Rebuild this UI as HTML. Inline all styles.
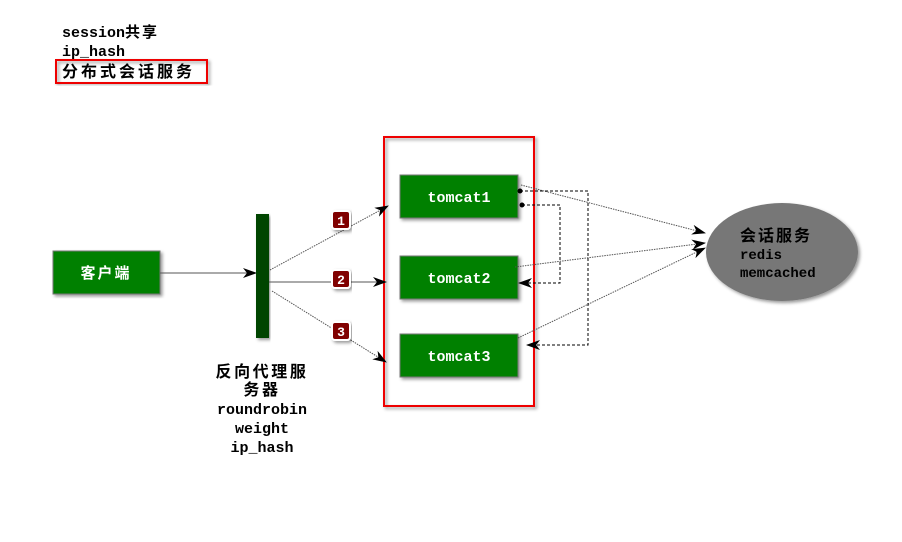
<!DOCTYPE html>
<html><head><meta charset="utf-8"><style>
body{margin:0;background:#fff;width:902px;height:537px;overflow:hidden}
text{font-family:"Liberation Mono","Noto Sans CJK SC",monospace;font-weight:bold}
</style></head><body>
<svg width="902" height="537" xmlns="http://www.w3.org/2000/svg">
<defs>
<marker id="a" markerWidth="14" markerHeight="10" refX="13" refY="5" orient="auto" markerUnits="userSpaceOnUse">
<path d="M0,0 L14,5 L0,10 L4,5 Z" fill="#000"/></marker>
<filter id="s"><feDropShadow dx="2" dy="2" stdDeviation="1.5" flood-opacity="0.4"/></filter>
</defs>
<text x="62" y="37" font-size="15">session<tspan letter-spacing="2">共享</tspan></text>
<text x="62" y="56" font-size="15">ip_hash</text>
<rect x="56" y="60" width="151" height="23" fill="none" stroke="#e00" stroke-width="2" filter="url(#s)"/>
<text x="62" y="77" font-size="16" letter-spacing="3">分布式会话服务</text>

<rect x="53" y="251" width="107" height="43" fill="#008000" stroke="#777" filter="url(#s)"/>
<text x="106" y="278" font-size="15" fill="#fff" text-anchor="middle" letter-spacing="2">客户端</text>
<line x1="160" y1="273" x2="256" y2="273" stroke="#555" marker-end="url(#a)"/>

<rect x="256" y="214" width="13" height="124" fill="#004400" filter="url(#s)"/>
<g font-size="15" text-anchor="middle">
<text x="262" y="377" font-size="16" letter-spacing="2.6">反向代理服</text>
<text x="262" y="395" font-size="16" letter-spacing="2.6">务器</text>
<text x="262" y="414">roundrobin</text>
<text x="262" y="433">weight</text>
<text x="262" y="452">ip_hash</text>
</g>

<rect x="384" y="137" width="150" height="269" fill="none" stroke="#e00" stroke-width="2" filter="url(#s)"/>

<line x1="270" y1="270" x2="388" y2="206" stroke="#555" stroke-dasharray="1.5,1" marker-end="url(#a)"/>
<line x1="269" y1="282" x2="386" y2="282" stroke="#555" marker-end="url(#a)"/>
<line x1="272" y1="291" x2="386" y2="362" stroke="#555" stroke-dasharray="1.5,1" marker-end="url(#a)"/>

<g filter="url(#s)">
<rect x="400" y="175" width="118" height="43" fill="#008000" stroke="#777"/>
<rect x="400" y="256" width="118" height="43" fill="#008000" stroke="#777"/>
<rect x="400" y="334" width="118" height="43" fill="#008000" stroke="#777"/>
</g>
<g font-size="15" fill="#fff" text-anchor="middle">
<text x="459" y="202">tomcat1</text>
<text x="459" y="283">tomcat2</text>
<text x="459" y="361">tomcat3</text>
</g>

<g fill="#800000" stroke="#fff" stroke-width="2" filter="url(#s)">
<rect x="332" y="211" width="18" height="18" rx="3"/>
<rect x="332" y="270" width="18" height="18" rx="3"/>
<rect x="332" y="322" width="18" height="18" rx="3"/>
</g>
<g font-size="13" fill="#fff" text-anchor="middle" font-family="Liberation Sans">
<text x="341" y="225">1</text><text x="341" y="284">2</text><text x="341" y="336">3</text>
</g>

<ellipse cx="782" cy="252" rx="76" ry="49" fill="#777" filter="url(#s)"/>
<text x="740" y="241" font-size="16" letter-spacing="2">会话服务</text>
<text x="740" y="259" font-size="14">redis</text>
<text x="740" y="277" font-size="14">memcached</text>

<g stroke="#555" stroke-dasharray="1.5,1" fill="none">
<line x1="521" y1="185" x2="705" y2="233" marker-end="url(#a)"/>
<line x1="515" y1="267" x2="705" y2="243" marker-end="url(#a)"/>
<line x1="518" y1="338" x2="705" y2="248" marker-end="url(#a)"/>
</g>
<g stroke="#000" stroke-dasharray="3,2" fill="none">
<polyline points="520,191 588,191 588,345 527,345" marker-end="url(#a)"/>
<polyline points="522,205 560,205 560,283 519,283" marker-end="url(#a)"/>
</g>
<circle cx="520" cy="191" r="2.5" fill="#000"/>
<circle cx="522" cy="205" r="2.5" fill="#000"/>
</svg>
</body></html>
